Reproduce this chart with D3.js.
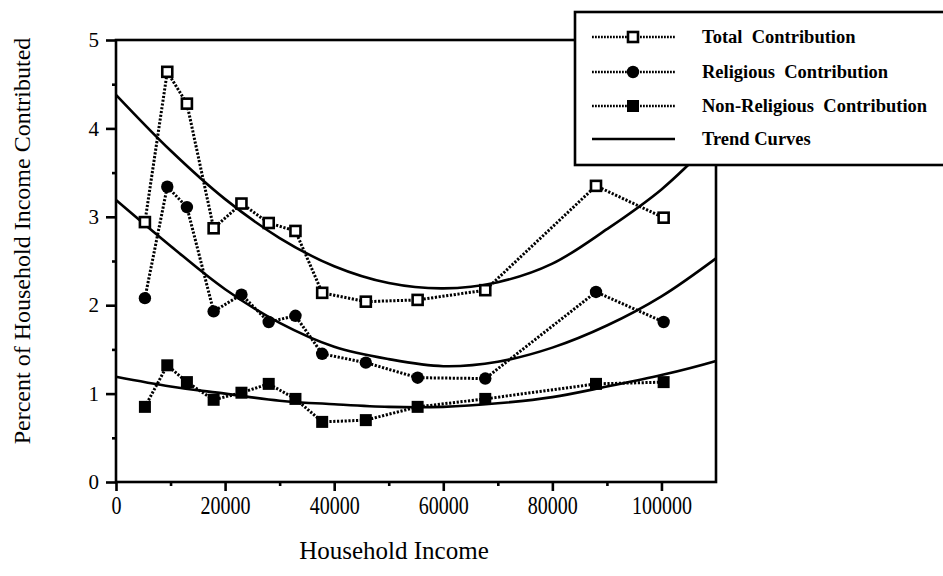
<!DOCTYPE html>
<html><head><meta charset="utf-8">
<script src="https://cdn.jsdelivr.net/npm/d3@7"></script>
<style>
html,body{margin:0;padding:0;background:#fff;}
svg{display:block;}
text{font-family:"Liberation Serif","Times New Roman",serif;fill:#000;}
</style></head>
<body><svg id="chart" width="943" height="576"></svg>
<script>
// ---- data ----
const income = [5300, 9400, 13000, 17900, 23000, 28000, 32900, 37800, 45800, 55300, 67700, 88000, 100400];
const totalContribution = [2.94, 4.64, 4.28, 2.87, 3.15, 2.93, 2.84, 2.14, 2.04, 2.06, 2.17, 3.35, 2.99];
const religiousContribution = [2.08, 3.34, 3.11, 1.93, 2.12, 1.81, 1.88, 1.45, 1.35, 1.18, 1.17, 2.15, 1.81];
const nonReligiousContribution = [0.85, 1.32, 1.13, 0.93, 1.01, 1.11, 0.94, 0.68, 0.70, 0.85, 0.94, 1.11, 1.13];

const trendIncome = [0, 10000, 20000, 30000, 40000, 50000, 60000, 70000, 80000, 90000, 100000, 110000];
const trendTotal = [4.38, 3.75, 3.20, 2.76, 2.44, 2.25, 2.19, 2.26, 2.47, 2.86, 3.31, 3.90];
const trendReligious = [3.19, 2.67, 2.18, 1.80, 1.53, 1.39, 1.31, 1.36, 1.52, 1.77, 2.10, 2.53];
const trendNonReligious = [1.19, 1.08, 1.00, 0.92, 0.88, 0.85, 0.85, 0.89, 0.96, 1.08, 1.21, 1.37];

const xTickValues = [0, 20000, 40000, 60000, 80000, 100000];
const xMinorTicks = [10000, 30000, 50000, 70000, 90000];
const yTickValues = [0, 1, 2, 3, 4, 5];
const yMinorTicks = [0.5, 1.5, 2.5, 3.5, 4.5];
const legendLabels = ["Total  Contribution", "Religious  Contribution", "Non-Religious  Contribution", "Trend Curves"];
const xTitle = "Household Income";
const yTitle = "Percent of Household Income Contributed";

// ---- layout ----
const svg = d3.select("#chart");
const x = d3.scaleLinear().domain([0, 110000]).range([116, 716]);
const y = d3.scaleLinear().domain([0, 5]).range([482, 40]);
const SW = 2.6;

// frame
svg.append("rect").attr("x", x(0)).attr("y", y(5))
  .attr("width", x(110000) - x(0)).attr("height", y(0) - y(5))
  .attr("fill", "none").attr("stroke", "#000").attr("stroke-width", SW);

// trend curves
const trendLine = d3.line().x(d => x(d[0])).y(d => y(d[1])).curve(d3.curveCatmullRom.alpha(0.5));
[trendTotal, trendReligious, trendNonReligious].forEach(t => {
  svg.append("path").datum(trendIncome.map((v, i) => [v, t[i]]))
    .attr("d", trendLine).attr("fill", "none").attr("stroke", "#000").attr("stroke-width", SW);
});

// data series
const dataLine = d3.line().x(d => x(d[0])).y(d => y(d[1]));
const series = [
  {vals: totalContribution, marker: "openSquare"},
  {vals: religiousContribution, marker: "circle"},
  {vals: nonReligiousContribution, marker: "square"}
];
function drawMarker(g, type, cx, cy) {
  if (type === "openSquare") {
    g.append("rect").attr("x", cx - 5).attr("y", cy - 5).attr("width", 10).attr("height", 10)
      .attr("fill", "#fff").attr("stroke", "#000").attr("stroke-width", 2.6);
  } else if (type === "circle") {
    g.append("circle").attr("cx", cx).attr("cy", cy).attr("r", 6.2).attr("fill", "#000");
  } else {
    g.append("rect").attr("x", cx - 6).attr("y", cy - 6).attr("width", 12).attr("height", 12).attr("fill", "#000");
  }
}
series.forEach(s => {
  const pts = income.map((v, i) => [v, s.vals[i]]);
  svg.append("path").datum(pts).attr("d", dataLine).attr("fill", "none")
    .attr("stroke", "#000").attr("stroke-width", 3).attr("stroke-dasharray", "2.2 1.6");
  const g = svg.append("g");
  pts.forEach(p => drawMarker(g, s.marker, x(p[0]), y(p[1])));
});

// axes
const xAxis = svg.append("g").attr("transform", `translate(0,${y(0)})`)
  .call(d3.axisBottom(x).tickValues(xTickValues).tickSize(9).tickFormat(d3.format("d")));
xAxis.select(".domain").remove();
xAxis.selectAll(".tick line").attr("stroke-width", SW);
xAxis.selectAll(".tick text").attr("font-size", 20)
  .attr("font-family", "'Liberation Serif',serif")
  .attr("transform", "scale(1,1.28)").attr("y", 10.5).attr("dy", "0.71em");

const xMinor = svg.append("g").attr("transform", `translate(0,${y(0)})`)
  .call(d3.axisBottom(x).tickValues(xMinorTicks).tickSize(4).tickFormat(""));
xMinor.select(".domain").remove();
xMinor.selectAll(".tick line").attr("stroke-width", SW);

const yAxis = svg.append("g").attr("transform", `translate(${x(0)},0)`)
  .call(d3.axisLeft(y).tickValues(yTickValues).tickSize(10).tickPadding(7).tickFormat(d3.format("d")));
yAxis.select(".domain").remove();
yAxis.selectAll(".tick line").attr("stroke-width", SW);
yAxis.selectAll(".tick text").attr("font-size", 21).attr("font-family", "'Liberation Serif',serif");

const yMinor = svg.append("g").attr("transform", `translate(${x(0)},0)`)
  .call(d3.axisLeft(y).tickValues(yMinorTicks).tickSize(4).tickFormat(""));
yMinor.select(".domain").remove();
yMinor.selectAll(".tick line").attr("stroke-width", SW);

// axis titles
svg.append("text").attr("x", 394).attr("y", 559).attr("text-anchor", "middle")
  .attr("font-size", 25).text(xTitle);
svg.append("text").attr("transform", "translate(30,241) rotate(-90)").attr("text-anchor", "middle")
  .attr("font-size", 24).text(yTitle);

// legend
const lg = svg.append("g");
lg.append("rect").attr("x", 575).attr("y", 12).attr("width", 400).attr("height", 153)
  .attr("fill", "#fff").attr("stroke", "#000").attr("stroke-width", SW);
const rowY = [37, 72, 106, 139];
const markers = ["openSquare", "circle", "square", null];
legendLabels.forEach((lab, i) => {
  const yy = rowY[i];
  if (markers[i]) {
    lg.append("line").attr("x1", 592).attr("x2", 675).attr("y1", yy).attr("y2", yy)
      .attr("stroke", "#000").attr("stroke-width", 2.4).attr("stroke-dasharray", "1.8 1.2");
    drawMarker(lg, markers[i], 633, yy);
  } else {
    lg.append("line").attr("x1", 592).attr("x2", 675).attr("y1", yy).attr("y2", yy)
      .attr("stroke", "#000").attr("stroke-width", SW);
  }
  lg.append("text").attr("x", 702).attr("y", yy + 6).attr("font-size", 18.5)
    .attr("font-weight", "bold").attr("xml:space", "preserve").style("white-space", "pre").text(lab);
});
</script></body></html>
